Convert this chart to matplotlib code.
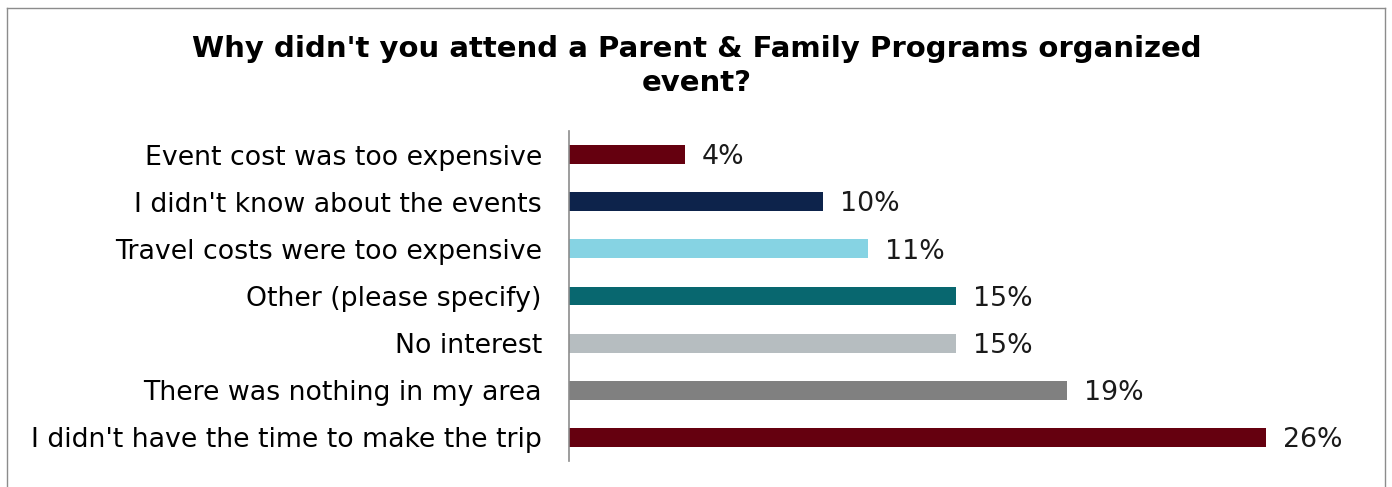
import matplotlib
matplotlib.use("Agg")
import matplotlib.pyplot as plt
from matplotlib.lines import Line2D

categories = [
    "Event cost was too expensive",
    "I didn't know about the events",
    "Travel costs were too expensive",
    "Other (please specify)",
    "No interest",
    "There was nothing in my area",
    "I didn't have the time to make the trip",
]
values = [4.36, 9.55, 11.24, 14.55, 14.55, 18.72, 26.2]
colors = ["#65000F", "#0D234B", "#86D3E3", "#08676F", "#B6BDC0", "#808080", "#65000F"]
title = "Why didn't you attend a Parent & Family Programs organized\nevent?"

W, H = 1392, 487
fig = plt.figure(figsize=(W / 100, H / 100), dpi=100)
plt.rcParams['font.family'] = ['DejaVu Sans']

ax_left, ax_right, ax_top, ax_bottom = 569, 1350, 131, 461
ax = fig.add_axes([ax_left / W, 1 - ax_bottom / H, (ax_right - ax_left) / W, (ax_bottom - ax_top) / H])

px_per_unit = (1266 - 569) / 26.2
ax.set_xlim(0, (ax_right - ax_left) / px_per_unit)
n = len(categories)
ypos = list(range(n))
ax.barh(ypos, values, height=0.4, color=colors)
ax.set_ylim(n - 0.5, -0.5)
ax.set_yticks(ypos)
ax.set_yticklabels(categories, fontsize=19.3, color="#000000")
ax.tick_params(axis='y', length=0, pad=19.5)
ax.set_xticks([])
for s in ["top", "right", "bottom"]:
    ax.spines[s].set_visible(False)
ax.spines["left"].set_color("#8c8c8c")
ax.spines["left"].set_linewidth(1.2)

for y, v in zip(ypos, values):
    ax.annotate(f"{round(v):d}%", xy=(v, y), xytext=(12, -2), textcoords="offset points",
                va="center", ha="left", fontsize=19.3, color="#1a1a1a")

fig.text(697 / W, 1 - 66 / H, title, ha="center", va="center", fontsize=21,
         fontweight="bold", linespacing=1.27)

# outer border
bc = "#8c8c8c"
x0, x1, y0 = 7 / W, 1385 / W, 1 - 8 / H
fig.add_artist(Line2D([x0, x0], [0, y0], color=bc, lw=1, transform=fig.transFigure))
fig.add_artist(Line2D([x0, x1], [y0, y0], color=bc, lw=1, transform=fig.transFigure))
fig.add_artist(Line2D([x1, x1], [0, y0], color=bc, lw=1, transform=fig.transFigure))

fig.savefig("out.png", dpi=100)
